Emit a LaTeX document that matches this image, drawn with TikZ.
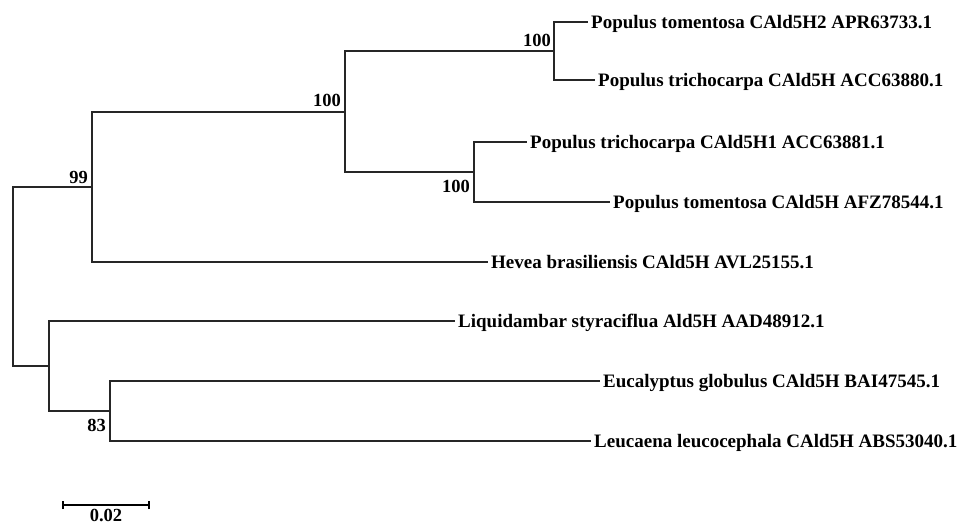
\documentclass[tikz,border=0pt]{standalone}
\usepackage{fontspec}
\setmainfont{Liberation Serif}
\begin{document}
\begin{tikzpicture}[x=1pt,y=-1pt,
  br/.style={line width=2pt,color=black!85},
  leaf/.style={anchor=west,inner xsep=3pt,inner ysep=0pt,text height=13pt,text depth=0pt,font=\fontsize{19}{20}\selectfont\bfseries},
  boot/.style={inner sep=0pt,font=\fontsize{18.5}{20}\selectfont\bfseries}]
\useasboundingbox (0,0) rectangle (968,527);
% internal nodes
\coordinate (root) at (13,276);
\coordinate (n99) at (92,187);
\coordinate (nA) at (345,112);
\coordinate (nA1) at (554,51);
\coordinate (nA2) at (474,172);
\coordinate (nB) at (49,366);
\coordinate (n83) at (110,411);
% leaves
\node[leaf] (l1) at (588,22) {Populus tomentosa CAld5H2 APR63733.1};
\node[leaf] (l2) at (595,80) {Populus trichocarpa CAld5H ACC63880.1};
\node[leaf] (l3) at (527,142) {Populus trichocarpa CAld5H1 ACC63881.1};
\node[leaf] (l4) at (610,202) {Populus tomentosa CAld5H AFZ78544.1};
\node[leaf] (l5) at (488,262) {Hevea brasiliensis CAld5H AVL25155.1};
\node[leaf] (l6) at (455,321) {Liquidambar styraciflua Ald5H AAD48912.1};
\node[leaf] (l7) at (600,381) {Eucalyptus globulus CAld5H BAI47545.1};
\node[leaf] (l8) at (591,441) {Leucaena leucocephala CAld5H ABS53040.1};
% branches
\draw[br] (root) |- (n99);
\draw[br] (root) |- (nB);
\draw[br] (n99) |- (nA);
\draw[br] (n99) |- (l5.west);
\draw[br] (nA) |- (nA1);
\draw[br] (nA) |- (nA2);
\draw[br] (nA1) |- (l1.west);
\draw[br] (nA1) |- (l2.west);
\draw[br] (nA2) |- (l3.west);
\draw[br] (nA2) |- (l4.west);
\draw[br] (nB) |- (l6.west);
\draw[br] (nB) |- (n83);
\draw[br] (n83) |- (l7.west);
\draw[br] (n83) |- (l8.west);
% bootstrap values
\node[boot,anchor=base east] (b99) at (88,183) {99};
\node[boot,anchor=base east] (bA) at (341,106) {100};
\node[boot,anchor=base east] (bA1) at (551,47) {100};
\node[boot,anchor=base east] (bA2) at (470,192) {100};
\node[boot,anchor=base east] (b83) at (106,431) {83};
% scale bar
\coordinate (sbL) at (63,505);
\coordinate (sbR) at (149,505);
\draw[line width=1.6pt] (sbL) -- (sbR);
\draw[line width=1.6pt] ([yshift=-4pt]sbL) -- ([yshift=4pt]sbL);
\draw[line width=1.6pt] ([yshift=-4pt]sbR) -- ([yshift=4pt]sbR);
\node[boot,anchor=base] (sbt) at (106,521) {0.02};
\end{tikzpicture}
\end{document}
